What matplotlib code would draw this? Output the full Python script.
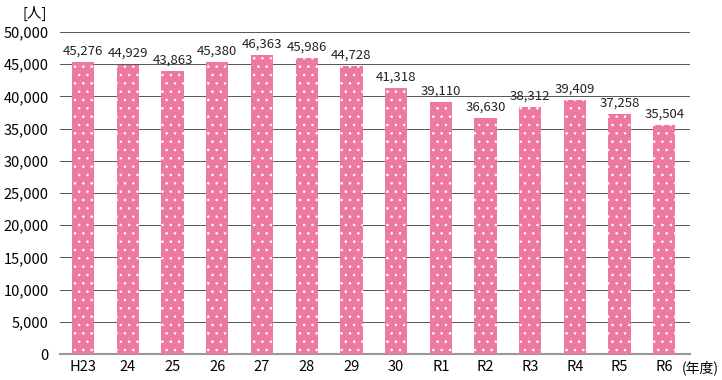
import matplotlib
matplotlib.use("Agg")
import matplotlib.pyplot as plt

plt.rcParams['font.family'] = ['Noto Sans CJK JP', 'DejaVu Sans']
plt.rcParams['hatch.color'] = 'white'
plt.rcParams['hatch.linewidth'] = 0.6

# data
years = ['H23', '24', '25', '26', '27', '28', '29', '30', 'R1', 'R2', 'R3', 'R4', 'R5', 'R6']
people = [45276, 44929, 43863, 45380, 46363, 45986, 44728, 41318, 39110, 36630, 38312, 39409, 37258, 35504]

bar_color = '#EE79A0'

fig = plt.figure(figsize=(7.22, 3.8), dpi=100)
ax = fig.add_axes([0.083, 0.068, 0.873, 0.848])

x = list(range(len(years)))
# edgecolor white -> hatch dots white, no outline drawn
bars = ax.bar(x, people, width=0.5, color=bar_color, edgecolor='white', linewidth=0, hatch='..', zorder=3)

for xi, v in zip(x, people):
    ax.text(xi, v + 700, f'{v:,}', ha='center', va='bottom', fontsize=9.5, color='#222222')

ax.set_ylim(0, 50000)
ax.set_xlim(-0.52, 13.58)
ax.set_yticks(range(0, 50001, 5000))
ax.set_yticklabels([f'{t:,}' for t in range(0, 50001, 5000)], fontsize=10.5)
ax.set_xticks(x)
ax.set_xticklabels(years, fontsize=10.5)
ax.tick_params(length=0, pad=4)
ax.tick_params(axis='y', pad=8)

ax.grid(axis='y', color='#555555', linewidth=0.7, zorder=0)
for s in ['top', 'right', 'left']:
    ax.spines[s].set_visible(False)
ax.spines['bottom'].set_color('#999999')
ax.spines['bottom'].set_linewidth(1.5)

fig.text(0.048, 0.965, '[人]', fontsize=10.5, ha='center', va='center')
fig.text(0.97, 0.033, '(年度)', fontsize=10, ha='center', va='center')

fig.savefig('out.png', dpi=100)
